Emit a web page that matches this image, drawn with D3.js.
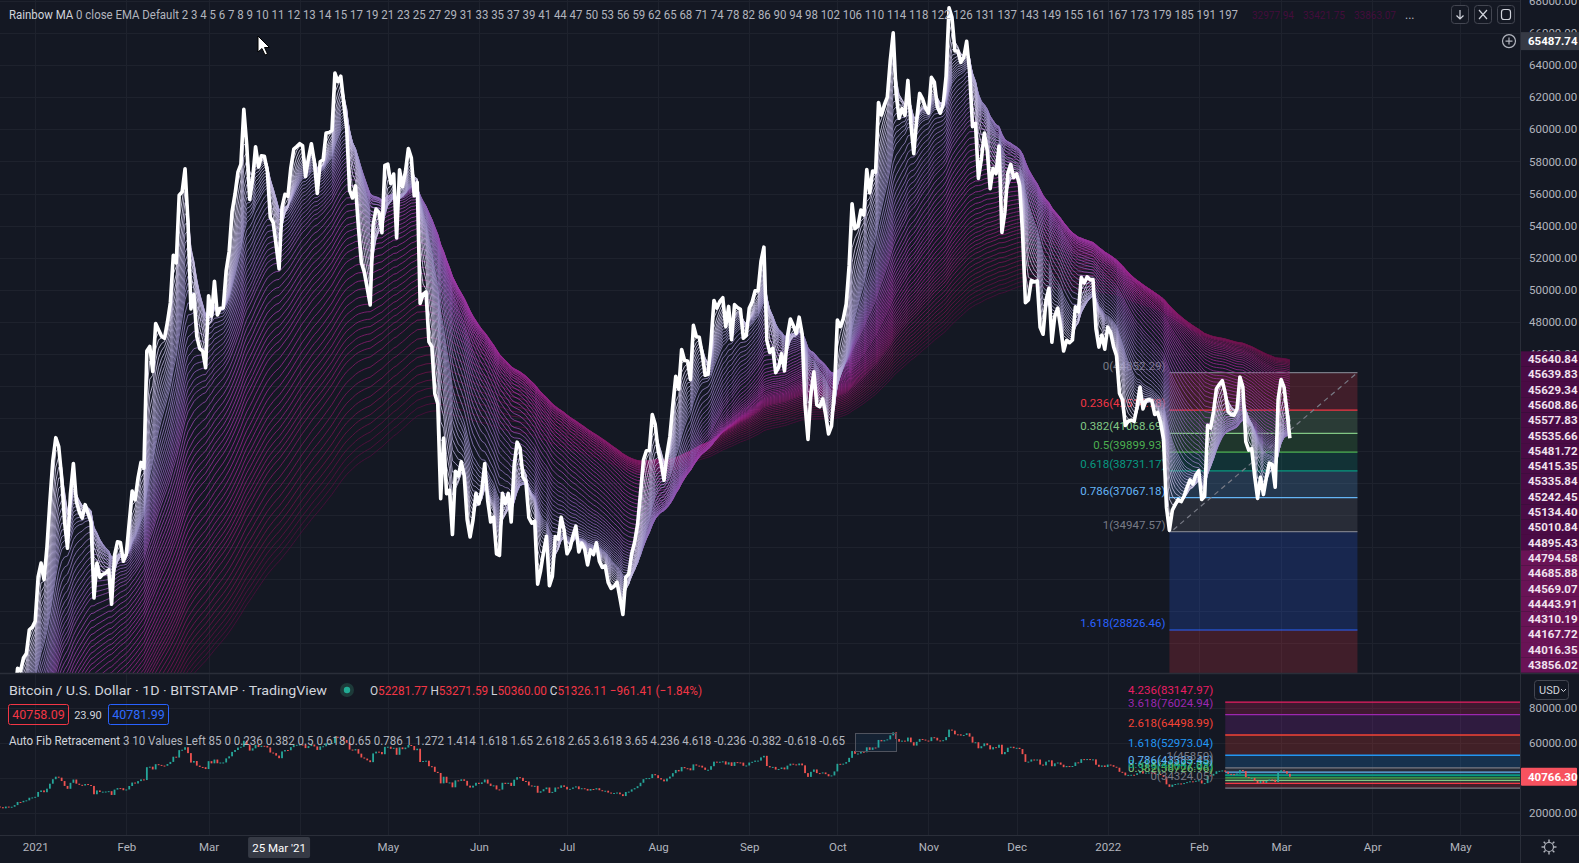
<!DOCTYPE html>
<html><head><meta charset="utf-8">
<script src="https://cdn.jsdelivr.net/npm/d3@7"></script>
<style>
html,body{margin:0;padding:0;background:#141823;overflow:hidden}
svg{display:block;font-family:Roboto,"Noto Sans","DejaVu Sans",sans-serif}
</style></head><body>
<svg id="c" width="1579" height="863"></svg>
<script>
// ---------------- DATA ----------------
// EMA periods of the Rainbow MA
const emaPeriods=[2,3,4,5,6,7,8,9,10,11,12,13,14,15,17,19,21,23,25,27,29,31,33,35,37,39,41,44,47,50,53,56,59,62,65,68,71,74,78,82,86,90,94,98,102,106,110,114,118,122,126,131,137,143,149,155,161,167,173,179,185,191,197];
// warm-up history for the EMAs (weekly closes Jun 7 - Dec 13 2020, then daily Dec 14-19 2020)
const warmupWeekly=[9758,9427,9300,9114,9075,9263,9165,9934,11071,11682,11911,11665,11680,10280,10329,10920,10784,10675,11380,11505,13031,13737,15484,15955,18364,18177,19154,19142];
const warmupDaily=[19246,19417,21310,22805,23137,23869];
// daily closes BTC/USD
const closeDec2020=[23480,22840,23820,23250,23720,24660,26440,26270,27080,27360,28840,29000]; // from Dec 20
const closeJan2021=[29370,32130,32990,31970,33990,36820,39370,40800,40250,38330,35550,33920,37320,39190,36830,36180,35790,36630,36070,35550,30820,33000,32100,32290,32370,32570,30430,33470,34320,34270,33110];
const closeFeb2021=[33540,35510,37470,36930,38290,39260,38900,46200,46480,44920,47910,47500,47110,46990,47990,49200,52150,51680,55890,56100,57540,54200,48820,49710,47090,46340,46190,45150];
const closeMar2021=[49630,48380,50540,48440,48860,48880,51210,52380,54880,55960,57330,57810,61240,59000,55630,56900,58910,57650,58350,58320,57390,54530,54190,52780,51310,55140,55950,55820,57600,58760,58920];
const closeApr2021=[59100,58970,57060,58200,59100,57980,56010,57980,58100,59770,59790,59930,63500,62970,63300,61620,60050,56200,55720,56470,53900,51700,51100,50100,49060,54030,55030,54820,53560,57750];
const closeMay2021=[57830,56630,57210,53240,57470,56430,57360,58800,58230,55860,56700,49150,49720,49880,46760,46450,43540,42910,37000,40780,37310,37530,34770,38710,38410,39300,38440,35700,34620,35680,37340];
const closeJun2021=[36690,37570,39190,36880,35550,35860,33560,33470,37340,36700,37330,35550,39100,40520,40160,38350,38050,35820,35480,35600,31680,32510,33680,34660,31590,32160,34650,34480,35850,35040];
const closeJul2021=[33570,33900,34670,35290,33690,34230,33860,32880,33810,33520,34260,33110,32720,32820,31780,31420,31530,31800,30820,29790,32110,32310,33580,34290,35400,37340,39400,39990,40010,42240,41630];
const closeAug2021=[39980,39200,38150,39750,40870,42820,44620,43820,46290,45600,45570,44430,47790,47100,47050,45990,44690,44740,46770,49340,48870,49280,49510,47710,48970,46900,49080,48900,48790,46990,47170];
const closeSep2021=[48850,49250,49940,49940,51770,52660,46860,46100,46370,44850,45160,46030,44960,47090,48180,47780,47300,48300,47260,42840,40690,43570,44900,42840,42720,43210,42240,41030,41520,43790];
const closeOct2021=[48120,47710,48200,49110,51510,55360,53810,53970,54970,54660,57490,56040,57400,57320,61670,60880,61530,62000,64280,66000,62210,60690,61290,60860,63040,60360,58480,60620,62230,61890,61320];
const closeNov2021=[61000,63230,62930,61400,61000,61530,63310,67560,66970,64880,64870,64160,64470,65470,63560,60160,60370,56940,58120,59760,58680,56300,57570,57230,58960,53570,54820,57250,57810,56990];
const closeDec2021=[57220,56510,53600,49200,49370,50580,50500,50560,47670,47240,49340,50100,46740,48380,48860,47630,46200,46850,46710,46880,48940,48630,50780,50430,50810,50640,50640,47590,46440,47180,46310];
const closeJan2022=[47690,47350,46460,45900,43570,43160,41560,41820,41890,41820,42740,43950,42590,43100,43180,43110,42250,42370,41740,40680,36460,35030,36280,36650,36950,36820,37170,37710,38170,37920,38480];
const closeFeb2022=[38740,36950,37150,41570,41400,42410,43840,44120,44350,43570,42410,42240,42200,42590,44580,43960,40550,40030,40120,38430,37020,38340,37260,38330,39220,39120,37710,43190];
const closeMar2022=[44420,43950,42460,40766.30];

// main pane Fibonacci retracement drawing
const mainFibRatios=[0,0.236,0.382,0.5,0.618,0.786,1,1.618,2.618];
const mainFibPrices=[44852.29,42514.78,41068.69,39899.93,38731.17,37067.18,34947.57,28826.46,18921.74];
const mainFibColors=["#787b86","#f23645","#81c784","#4caf50","#089981","#64b5f6","#787b86","#2962ff","#f23645"];
const mainFibStart="2022-01-22", mainFibEnd="2022-03-27";

// lower pane Auto Fib
const subFibRatios=[0,0.236,0.382,0.5,0.618,0.65,0.786,1,1.618,2.618,3.618,4.236];
const subFibPrices=[34324.05,37044.17,38726.96,40087.03,41447.09,41815.92,43383.45,45850.00,52973.04,64498.99,76024.94,83147.97];
const subFibColors=["#787b86","#f23645","#81c784","#4caf50","#089981","#089981","#64b5f6","#787b86","#2196f3","#f44336","#9c27b0","#e91e63"];
const subFibLabelled=[0,0.382,0.5,0.618,0.786,1,1.618,2.618,3.618,4.236];
const subFibStart="2022-02-10";

// axis ticks
const mainPriceTicks=[28000,30000,32000,34000,36000,38000,40000,42000,44000,46000,48000,50000,52000,54000,56000,58000,60000,62000,64000,66000,68000];
const subPriceTicks=[20000,40000,60000,80000];
const timeTickDates=["2021-01-01","2021-02-01","2021-03-01","2021-05-01","2021-06-01","2021-07-01","2021-08-01","2021-09-01","2021-10-01","2021-11-01","2021-12-01","2022-01-01","2022-02-01","2022-03-01","2022-04-01","2022-05-01"];
const timeTickLabels=["2021","Feb","Mar","May","Jun","Jul","Aug","Sep","Oct","Nov","Dec","2022","Feb","Mar","Apr","May"];
const crosshairDate="2021-03-25", crosshairDateLabel="25 Mar '21", crosshairPrice=65487.74;
// rainbow value tags on the price axis
const rainbowTagValues=[45640.84,45639.83,45629.34,45608.86,45577.83,45535.66,45481.72,45415.35,45335.84,45242.45,45134.40,45010.84,44895.43,44794.58,44685.88,44569.07,44443.91,44310.19,44167.72,44016.35,43856.02];
const headerValues=["32977.94","33421.75","33863.07"];
const lastPrice=40766.30;

// ---------------- BUILD ----------------
const W=1579,H=863,plotR=1520,mainBot=673,subTop=674,subBot=835;
const svg=d3.select('#c');
const BG='#141823', GRID='#1e222d', SEP='#2a2e39', TXT='#b2b5be';
svg.append('rect').attr('width',W).attr('height',H).attr('fill',BG);
const defs=svg.append('defs');
defs.append('clipPath').attr('id','cm').append('rect').attr('x',0).attr('y',0).attr('width',plotR).attr('height',mainBot);
defs.append('clipPath').attr('id','cs').append('rect').attr('x',0).attr('y',subTop).attr('width',plotR).attr('height',subBot-subTop);

const blocks=[[2020,11,20,closeDec2020],[2021,0,1,closeJan2021],[2021,1,1,closeFeb2021],[2021,2,1,closeMar2021],[2021,3,1,closeApr2021],[2021,4,1,closeMay2021],[2021,5,1,closeJun2021],[2021,6,1,closeJul2021],[2021,7,1,closeAug2021],[2021,8,1,closeSep2021],[2021,9,1,closeOct2021],[2021,10,1,closeNov2021],[2021,11,1,closeDec2021],[2022,0,1,closeJan2022],[2022,1,1,closeFeb2022],[2022,2,1,closeMar2022]];
const series=[];
blocks.forEach(([yr,m,d0,arr])=>arr.forEach((v,i)=>series.push({date:new Date(Date.UTC(yr,m,d0+i)),close:v})));
series.forEach((d,i)=>{d.open=i?series[i-1].close:warmupDaily[warmupDaily.length-1];});

const pd=s=>new Date(s+"T00:00:00Z");
const x=d3.scaleUtc().domain([pd("2021-01-01"),pd("2022-01-01")]).range([35.2,1107.7]);
const y=d3.scaleLinear().domain([26000,68000]).range([675.4,0.75]);
const y2=d3.scaleLinear().domain([20000,80000]).range([813.3,707.7]);

// grid
const gridG=svg.append('g');
d3.utcMonth.range(pd("2020-12-01"),pd("2022-06-01")).forEach(m=>{
  const xx=Math.round(x(m))+0.5; if(xx<0||xx>plotR) return;
  gridG.append('line').attr('x1',xx).attr('x2',xx).attr('y1',0).attr('y2',subBot).attr('stroke',GRID);
});
mainPriceTicks.forEach(p=>gridG.append('line').attr('x1',0).attr('x2',plotR).attr('y1',Math.round(y(p))+0.5).attr('y2',Math.round(y(p))+0.5).attr('stroke',GRID));
subPriceTicks.forEach(p=>gridG.append('line').attr('x1',0).attr('x2',plotR).attr('y1',Math.round(y2(p))+0.5).attr('y2',Math.round(y2(p))+0.5).attr('stroke',GRID));

// ---------------- MAIN PANE ----------------
const main=svg.append('g').attr('clip-path','url(#cm)');
const fx0=x(pd(mainFibStart)), fx1=x(pd(mainFibEnd));
for(let i=0;i<mainFibPrices.length-1;i++){
  main.append('rect').attr('x',fx0).attr('width',fx1-fx0)
    .attr('y',y(mainFibPrices[i])).attr('height',y(mainFibPrices[i+1])-y(mainFibPrices[i]))
    .attr('fill',mainFibColors[i+1]).attr('fill-opacity',0.2);
}
mainFibPrices.forEach((p,i)=>{
  main.append('line').attr('x1',fx0).attr('x2',fx1).attr('y1',y(p)).attr('y2',y(p)).attr('stroke',mainFibColors[i]).attr('stroke-width',1.2);
});
mainFibPrices.slice(0,8).forEach((p,i)=>{
  main.append('text').attr('x',fx0-4).attr('y',y(p)-3).attr('text-anchor','end')
    .attr('font-size',11.5).attr('fill',mainFibColors[i])
    .text(`${mainFibRatios[i]}(${p.toFixed(2)})`);
});
main.append('line').attr('x1',fx0+4).attr('y1',y(mainFibPrices[6])-2).attr('x2',fx1).attr('y2',y(mainFibPrices[0]))
  .attr('stroke','#787b86').attr('stroke-width',1.2).attr('stroke-dasharray','5,4');

// rainbow EMAs
const emaLines=emaPeriods.map(p=>{
  const a=2/(p+1); let e=warmupWeekly[0];
  warmupWeekly.forEach(v=>{for(let k=0;k<7;k++) e+=a*(v-e);});
  warmupDaily.forEach(v=>{e+=a*(v-e);});
  return series.map(d=>{e+=a*(d.close-e);return {date:d.date,v:e};});
});
const col=d3.scaleLinear().domain([0,.08,.2,.35,.5,.65,.8,.92,1])
  .range(["#e4def4","#b9b0da","#958ac2","#8a5db3","#9a3aa6","#98268f","#861a6a","#6c1248","#4e0c3c"]).interpolate(d3.interpolateRgb);
const emaLine=d3.line().x(d=>x(d.date)).y(d=>y(d.v));
for(let i=emaLines.length-1;i>=0;i--){
  main.append('path').attr('d',emaLine(emaLines[i])).attr('fill','none')
    .attr('stroke',col(i/(emaLines.length-1))).attr('stroke-width',1).attr('stroke-opacity',0.82);
}
main.append('path').attr('d',d3.line().x(d=>x(d.date)).y(d=>y(d.close))(series))
  .attr('fill','none').attr('stroke','#ffffff').attr('stroke-width',3.6).attr('stroke-linejoin','round');

// ---------------- SUB PANE ----------------
const sub=svg.append('g').attr('clip-path','url(#cs)');
const sx0=x(pd(subFibStart));
for(let i=0;i<subFibPrices.length-1;i++){
  sub.append('rect').attr('x',sx0).attr('width',plotR-sx0)
    .attr('y',y2(subFibPrices[i+1])).attr('height',y2(subFibPrices[i])-y2(subFibPrices[i+1]))
    .attr('fill',subFibColors[i+1]).attr('fill-opacity',0.2);
}
subFibPrices.forEach((p,i)=>sub.append('line').attr('x1',sx0).attr('x2',plotR).attr('y1',y2(p)).attr('y2',y2(p)).attr('stroke',subFibColors[i]).attr('stroke-width',1.3));
sub.selectAll('rect.cd').data(series).join('rect').attr('class','cd')
  .attr('x',d=>x(d.date)-0.9).attr('width',1.8)
  .attr('y',d=>y2(Math.max(d.open,d.close))).attr('height',d=>Math.max(1,Math.abs(y2(d.open)-y2(d.close))))
  .attr('fill',d=>d.close>=d.open?'#26a69a':'#ef5350');
const fmtFib=p=>{const s=p.toFixed(2);return s.endsWith('.00')?s.slice(0,-3):s;};
subFibPrices.forEach((p,i)=>{
  if(!subFibLabelled.includes(subFibRatios[i])) return;
  svg.append('text').attr('x',sx0-12).attr('y',y2(p)-8).attr('text-anchor','end').attr('font-size',11.5)
    .attr('fill',subFibColors[i]).text(`${subFibRatios[i]}(${fmtFib(p)})`);
});

// ---------------- SEPARATORS ----------------
svg.append('line').attr('x1',0).attr('x2',W).attr('y1',673.5).attr('y2',673.5).attr('stroke',SEP).attr('stroke-width',1.5);
svg.append('line').attr('x1',0).attr('x2',W).attr('y1',835.5).attr('y2',835.5).attr('stroke',SEP);
svg.append('line').attr('x1',plotR+0.5).attr('x2',plotR+0.5).attr('y1',0).attr('y2',H).attr('stroke',SEP);

// ---------------- AXES ----------------
const yAx=svg.append('g').attr('transform',`translate(${plotR},0)`)
  .call(d3.axisRight(y).tickValues(mainPriceTicks).tickFormat(d3.format('.2f')).tickSize(0).tickPadding(9));
yAx.select('.domain').remove();
yAx.selectAll('text').attr('fill',TXT).attr('font-size',11.5).attr('font-family','Roboto,sans-serif');
const y2Ax=svg.append('g').attr('transform',`translate(${plotR},0)`)
  .call(d3.axisRight(y2).tickValues(subPriceTicks).tickFormat(d3.format('.2f')).tickSize(0).tickPadding(9));
y2Ax.select('.domain').remove();
y2Ax.selectAll('text').attr('fill',TXT).attr('font-size',11.5).attr('font-family','Roboto,sans-serif');
const xAx=svg.append('g').attr('transform',`translate(0,${subBot})`)
  .call(d3.axisBottom(x).tickValues(timeTickDates.map(pd)).tickFormat((d,i)=>timeTickLabels[i]).tickSize(0).tickPadding(8));
xAx.select('.domain').remove();
xAx.selectAll('text').attr('fill',TXT).attr('font-size',11.5).attr('font-family','Roboto,sans-serif');

const cx=x(pd(crosshairDate));
svg.append('rect').attr('x',cx-31).attr('y',837).attr('width',62).attr('height',21).attr('fill','#363a45').attr('rx',2);
svg.append('text').attr('x',cx).attr('y',851.5).attr('text-anchor','middle').attr('font-size',11.5).attr('fill','#ffffff').text(crosshairDateLabel);

const cpy=y(crosshairPrice);
svg.append('rect').attr('x',plotR+1).attr('y',cpy-9).attr('width',W-plotR-1).attr('height',18).attr('fill','#363a45');
svg.append('text').attr('x',plotR+8).attr('y',cpy+4).attr('font-size',11.5).attr('font-weight','bold').attr('fill','#ffffff').text(crosshairPrice.toFixed(2));
const pg=svg.append('g').attr('transform',`translate(1509,${cpy})`);
pg.append('circle').attr('r',6.5).attr('fill','none').attr('stroke',TXT).attr('stroke-width',1.2);
pg.append('path').attr('d','M-3.5,0H3.5M0,-3.5V3.5').attr('stroke',TXT).attr('stroke-width',1.2);

rainbowTagValues.forEach((v,i)=>{
  const cy=359+i*15.3;
  svg.append('rect').attr('x',plotR+1).attr('y',cy-7.65).attr('width',W-plotR-1).attr('height',15.3)
    .attr('fill',i<13?'#4a0b45':'#6a1356');
  svg.append('text').attr('x',plotR+8).attr('y',cy+4).attr('font-size',11.5).attr('font-weight','bold')
    .attr('fill','#f1e3ef').text(v.toFixed(2));
});

const lpy=y2(lastPrice);
svg.append('rect').attr('x',plotR+1).attr('y',lpy-9).attr('width',W-plotR-3).attr('height',18).attr('fill','#f7525f').attr('rx',1);
svg.append('text').attr('x',plotR+8).attr('y',lpy+4).attr('font-size',11.5).attr('font-weight','bold').attr('fill','#ffffff').text(lastPrice.toFixed(2));

svg.append('rect').attr('x',1534.5).attr('y',680.5).attr('width',34).attr('height',19).attr('rx',3).attr('fill',BG).attr('stroke','#434651');
svg.append('text').attr('x',1539).attr('y',694).attr('font-size',11).attr('fill','#d1d4dc').text('USD');
svg.append('path').attr('d','M1561,689 l2.5,2.5 l2.5,-2.5').attr('fill','none').attr('stroke','#d1d4dc');

const gg=svg.append('g').attr('transform','translate(1549,847)');
gg.append('circle').attr('r',4.5).attr('fill','none').attr('stroke',TXT).attr('stroke-width',1.2);
d3.range(8).forEach(k=>{const a=k*Math.PI/4;gg.append('line').attr('x1',Math.cos(a)*5).attr('y1',Math.sin(a)*5).attr('x2',Math.cos(a)*7.5).attr('y2',Math.sin(a)*7.5).attr('stroke',TXT).attr('stroke-width',1.4);});

// ---------------- HEADER / LEGENDS ----------------
const hdr=svg.append('text').attr('x',9).attr('y',18.5).attr('font-size',12).attr('fill',TXT)
  .attr('textLength',1229).attr('lengthAdjust','spacingAndGlyphs');
hdr.append('tspan').attr('fill','#d1d4dc').text('Rainbow MA');
hdr.append('tspan').text(' 0 close EMA Default '+emaPeriods.join(' '));
headerValues.forEach((v,k)=>{
  svg.append('text').attr('x',1252+k*51).attr('y',18.5).attr('font-size',10).attr('fill','#430d3c').text(v);
});
svg.append('text').attr('x',1405).attr('y',18.5).attr('font-size',12).attr('fill',TXT).text('...');
[1451,1474,1497].forEach(bx=>{
  svg.append('rect').attr('x',bx+0.5).attr('y',5.5).attr('width',17).attr('height',18).attr('rx',3).attr('fill',BG).attr('stroke','#434651');
});
svg.append('path').attr('d','M1460,10 V19 M1456.5,15.5 L1460,19 L1463.5,15.5').attr('fill','none').attr('stroke','#d1d4dc').attr('stroke-width',1.2);
svg.append('path').attr('d','M1479,10 L1487,19 M1487,10 L1479,19').attr('fill','none').attr('stroke','#d1d4dc').attr('stroke-width',1.2);
svg.append('rect').attr('x',1501.5).attr('y',9.5).attr('width',9).attr('height',10).attr('rx',2.5).attr('fill','none').attr('stroke','#d1d4dc').attr('stroke-width',1.2);

svg.append('text').attr('x',9).attr('y',695).attr('font-size',13.5).attr('fill','#d1d4dc')
  .attr('textLength',318).attr('lengthAdjust','spacingAndGlyphs').text('Bitcoin / U.S. Dollar · 1D · BITSTAMP · TradingView');
svg.append('circle').attr('cx',347).attr('cy',690).attr('r',7).attr('fill','#1d3a39');
svg.append('circle').attr('cx',347).attr('cy',690).attr('r',3.2).attr('fill','#22ab94');
const ohlc=svg.append('text').attr('x',370).attr('y',695).attr('font-size',13).attr('fill','#d1d4dc')
  .attr('textLength',332).attr('lengthAdjust','spacingAndGlyphs');
[['O','52281.77'],[' H','53271.59'],[' L','50360.00'],[' C','51326.11']].forEach(([k,v])=>{
  ohlc.append('tspan').text(k); ohlc.append('tspan').attr('fill','#f23645').text(v);
});
ohlc.append('tspan').attr('fill','#f23645').text(' −961.41 (−1.84%)');
svg.append('rect').attr('x',8.5).attr('y',704.5).attr('width',60).attr('height',20).attr('rx',2).attr('fill','none').attr('stroke','#f23645');
svg.append('text').attr('x',38.5).attr('y',718.5).attr('text-anchor','middle').attr('font-size',12.5).attr('fill','#f23645').text('40758.09');
svg.append('text').attr('x',88).attr('y',718.5).attr('text-anchor','middle').attr('font-size',11).attr('fill','#d1d4dc').text('23.90');
svg.append('rect').attr('x',108.5).attr('y',704.5).attr('width',60).attr('height',20).attr('rx',2).attr('fill','none').attr('stroke','#2962ff');
svg.append('text').attr('x',138.5).attr('y',718.5).attr('text-anchor','middle').attr('font-size',12.5).attr('fill','#2f6bff').text('40781.99');
const af=svg.append('text').attr('x',9).attr('y',744.5).attr('font-size',12.5).attr('fill',TXT)
  .attr('textLength',836).attr('lengthAdjust','spacingAndGlyphs');
af.append('tspan').attr('fill','#d1d4dc').text('Auto Fib Retracement');
af.append('tspan').text(' 3 10 Values Left 85 0 0.236 0.382 0.5 0.618 0.65 0.786 1 1.272 1.414 1.618 1.65 2.618 2.65 3.618 3.65 4.236 4.618 -0.236 -0.382 -0.618 -0.65');
svg.append('rect').attr('x',855.5).attr('y',733.5).attr('width',41).attr('height',18).attr('fill','#2196f3').attr('fill-opacity',0.08).attr('stroke','#50535e');

svg.append('path').attr('transform','translate(258,36)')
  .attr('d','M0,0 L0,16 L4,12.5 L7,19 L9.5,18 L6.5,11.5 L11.5,11.5 Z')
  .attr('fill','#ffffff').attr('stroke','#000000').attr('stroke-width',1);
</script>
</body></html>
